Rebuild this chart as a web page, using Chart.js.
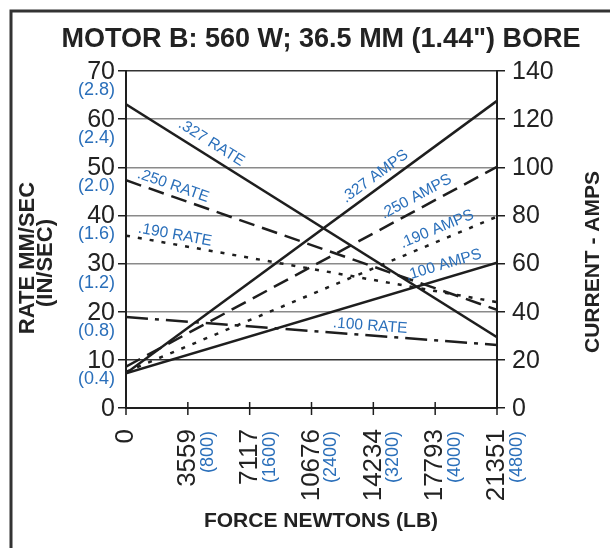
<!DOCTYPE html>
<html>
<head>
<meta charset="utf-8">
<title>Motor B performance</title>
<script src="https://cdn.jsdelivr.net/npm/chart.js@4.4.1/dist/chart.umd.min.js"></script>
<style>
  html, body { margin: 0; padding: 0; background: #ffffff; }
  canvas { display: block; }
</style>
</head>
<body>
<canvas id="chart" width="610" height="548"></canvas>
<script>
// Force axis (newtons) and its pound equivalents
const forceN = [0, 21351];
const forceTicks = [0, 3559, 7117, 10676, 14234, 17793, 21351];
const forceTickLabels = ['0', '3559', '7117', '10676', '14234', '17793', '21351'];
const forceLbLabels = ['', '(800)', '(1600)', '(2400)', '(3200)', '(4000)', '(4800)'];

// Rate axis (mm/sec) with inch/sec equivalents
const rateTicks = [0, 10, 20, 30, 40, 50, 60, 70];
const rateInLabels = ['', '(0.4)', '(0.8)', '(1.2)', '(1.6)', '(2.0)', '(2.4)', '(2.8)'];

// Current axis (amps)
const ampTicks = [0, 20, 40, 60, 80, 100, 120, 140];

// Rate (mm/sec) at zero load and at full load, per screw lead
const rate327 = [63.1, 14.7];
const rate250 = [47.3, 20.4];
const rate190 = [35.8, 22.0];
const rate100 = [18.9, 13.1];

// Current draw (amps) at zero load and at full load, per screw lead
const amps327 = [14.4, 127.6];
const amps250 = [17.2, 100.2];
const amps190 = [15.0, 79.5];
const amps100 = [14.4, 60.4];

const BLACK = '#1e1e1e';
const TEXT = '#222222';
const BLUE = '#2a6fba';
const FONT = '"Liberation Sans", Arial, Helvetica, sans-serif';

const DASH_250 = [16, 8];
const DASH_190 = [4, 8];
const DASH_100 = [22, 7, 4, 7];

function pts(values) {
  return forceN.map((f, i) => ({ x: f, y: values[i] }));
}

function series(label, values, axis, dash) {
  return {
    label: label,
    data: pts(values),
    yAxisID: axis,
    borderColor: BLACK,
    borderWidth: 2.5,
    borderDash: dash,
    pointRadius: 0,
    fill: false,
    tension: 0
  };
}

const datasets = [
  series('.327 RATE', rate327, 'y', []),
  series('.250 RATE', rate250, 'y', DASH_250),
  series('.190 RATE', rate190, 'y', DASH_190),
  series('.100 RATE', rate100, 'y', DASH_100),
  series('.327 AMPS', amps327, 'y1', []),
  series('.250 AMPS', amps250, 'y1', DASH_250),
  series('.190 AMPS', amps190, 'y1', DASH_190),
  series('.100 AMPS', amps100, 'y1', [])
];

// In-plot captions: which series, how far along it, and how far above it
const captions = [
  { ds: 0, at: 0.23, lift: 15 },
  { ds: 1, at: 0.127, lift: 11 },
  { ds: 2, at: 0.132, lift: 9.5 },
  { ds: 3, at: 0.658, lift: 9.5 },
  { ds: 4, at: 0.671, lift: 14 },
  { ds: 5, at: 0.782, lift: 13.6 },
  { ds: 6, at: 0.838, lift: 12.7 },
  { ds: 7, at: 0.856, lift: 13.7 }
];

const decorations = {
  id: 'decorations',
  afterDraw(chart) {
    const ctx = chart.ctx;
    const xs = chart.scales.x, ys = chart.scales.y, ya = chart.scales.y1;
    const area = chart.chartArea;
    ctx.save();

    // outer frame (left and top edges)
    ctx.strokeStyle = '#333333';
    ctx.lineWidth = 3;
    ctx.beginPath();
    ctx.moveTo(11, 548);
    ctx.lineTo(11, 11);
    ctx.lineTo(610, 11);
    ctx.stroke();

    // title
    ctx.fillStyle = TEXT;
    ctx.font = 'bold 27px ' + FONT;
    ctx.textAlign = 'center';
    ctx.textBaseline = 'middle';
    ctx.fillText('MOTOR B: 560 W; 36.5 MM (1.44") BORE', 321, 40);

    // x tick marks crossing the axis
    ctx.strokeStyle = BLACK;
    ctx.lineWidth = 1.5;
    forceTicks.forEach(v => {
      const px = xs.getPixelForValue(v);
      ctx.beginPath();
      ctx.moveTo(px, area.bottom - 6);
      ctx.lineTo(px, area.bottom + 7);
      ctx.stroke();
    });

    // left axis labels
    rateTicks.forEach((v, i) => {
      const py = ys.getPixelForValue(v);
      ctx.textAlign = 'right';
      ctx.textBaseline = 'middle';
      ctx.fillStyle = TEXT;
      ctx.font = '25px ' + FONT;
      ctx.fillText(String(v), 115, py + 1);
      if (rateInLabels[i]) {
        ctx.fillStyle = BLUE;
        ctx.font = '18px ' + FONT;
        ctx.fillText(rateInLabels[i], 115, py + 19);
      }
    });

    // right axis labels
    ampTicks.forEach(v => {
      const py = ya.getPixelForValue(v);
      ctx.textAlign = 'left';
      ctx.textBaseline = 'middle';
      ctx.fillStyle = TEXT;
      ctx.font = '25px ' + FONT;
      ctx.fillText(String(v), 512, py + 1);
    });

    // bottom axis labels, rotated
    forceTicks.forEach((v, i) => {
      const px = xs.getPixelForValue(v);
      ctx.save();
      ctx.translate(px, 429);
      ctx.rotate(-Math.PI / 2);
      ctx.textAlign = 'right';
      ctx.textBaseline = 'middle';
      ctx.fillStyle = TEXT;
      ctx.font = '26px ' + FONT;
      ctx.fillText(forceTickLabels[i], 0, 0);
      if (forceLbLabels[i]) {
        ctx.fillStyle = BLUE;
        ctx.font = '18px ' + FONT;
        ctx.fillText(forceLbLabels[i], -2, 20);
      }
      ctx.restore();
    });

    // axis titles
    ctx.fillStyle = TEXT;
    ctx.font = 'bold 21px ' + FONT;
    ctx.textAlign = 'center';
    ctx.textBaseline = 'middle';
    ctx.fillText('FORCE NEWTONS (LB)', 321, 521);

    ctx.font = 'bold 22px ' + FONT;
    ctx.save();
    ctx.translate(28, 258);
    ctx.rotate(-Math.PI / 2);
    ctx.fillText('RATE MM/SEC', 0, 0);
    ctx.fillText('(IN/SEC)', -5, 18);
    ctx.restore();

    ctx.font = 'bold 21px ' + FONT;
    ctx.save();
    ctx.translate(593, 262);
    ctx.rotate(-Math.PI / 2);
    ctx.fillText('CURRENT - AMPS', 0, 0);
    ctx.restore();

    // captions along the lines
    ctx.fillStyle = BLUE;
    ctx.font = '15.5px ' + FONT;
    ctx.textAlign = 'center';
    ctx.textBaseline = 'middle';
    captions.forEach(c => {
      const meta = chart.getDatasetMeta(c.ds);
      const a = meta.data[0], b = meta.data[1];
      const x = a.x + (b.x - a.x) * c.at;
      const y = a.y + (b.y - a.y) * c.at;
      const ang = Math.atan2(b.y - a.y, b.x - a.x);
      ctx.save();
      ctx.translate(x, y - c.lift);
      ctx.rotate(ang);
      ctx.fillText(datasets[c.ds].label, 0, 0);
      ctx.restore();
    });

    ctx.restore();
  }
};

new Chart(document.getElementById('chart'), {
  type: 'line',
  data: { datasets: datasets },
  options: {
    responsive: false,
    animation: false,
    devicePixelRatio: 1,
    layout: { padding: { top: 71, left: 0, right: 0, bottom: 0 } },
    plugins: { legend: { display: false }, tooltip: { enabled: false }, title: { display: false } },
    scales: {
      x: {
        type: 'linear',
        min: 0,
        max: forceTicks[forceTicks.length - 1],
        afterBuildTicks: s => { s.ticks = forceTicks.map(v => ({ value: v })); },
        afterFit: s => { s.height = 140; },
        ticks: { display: false },
        grid: { display: false },
        border: { display: true, color: BLACK, width: 2 }
      },
      y: {
        position: 'left',
        min: 0,
        max: 70,
        afterBuildTicks: s => { s.ticks = rateTicks.map(v => ({ value: v })); },
        afterFit: s => { s.width = 126; },
        ticks: { display: false },
        grid: {
          color: c => (c.tick && (c.tick.value === 70 || c.tick.value === 10)) ? '#333333' : '#8a8a8a',
          lineWidth: 1.5,
          tickLength: 8,
          tickColor: BLACK
        },
        border: { display: true, color: BLACK, width: 2 }
      },
      y1: {
        position: 'right',
        min: 0,
        max: 140,
        afterBuildTicks: s => { s.ticks = ampTicks.map(v => ({ value: v })); },
        afterFit: s => { s.width = 113; },
        ticks: { display: false },
        grid: { drawOnChartArea: false, tickLength: 8, tickColor: BLACK, lineWidth: 1.5 },
        border: { display: true, color: BLACK, width: 2 }
      }
    }
  },
  plugins: [decorations]
});
</script>
</body>
</html>
